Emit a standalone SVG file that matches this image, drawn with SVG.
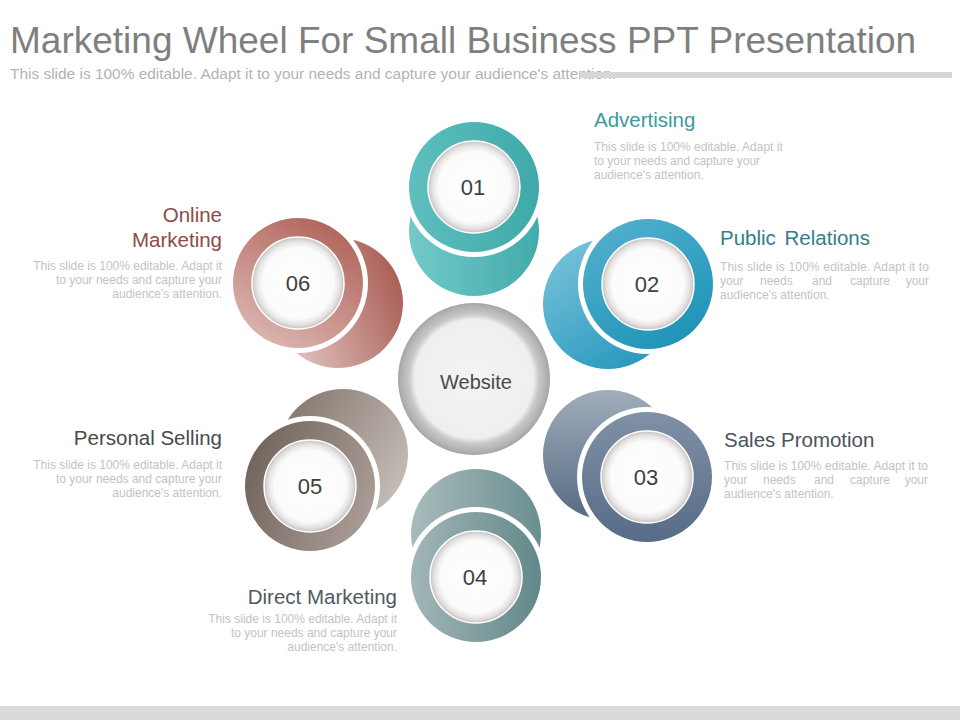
<svg xmlns="http://www.w3.org/2000/svg" width="960" height="720" viewBox="0 0 960 720">
<defs>
<style>
.title{font-family:"Liberation Sans",Arial,sans-serif;font-size:37px;fill:#7f7f7f}
.sub{font-family:"Liberation Sans",Arial,sans-serif;font-size:14px;fill:#b3b3b3}
.head{font-family:"Liberation Sans",Arial,sans-serif;font-size:20.5px}
.body{font-family:"Liberation Sans",Arial,sans-serif;font-size:12px;fill:#c3c3c3}
.end{text-anchor:end}
.num{font-family:"Liberation Sans",Arial,sans-serif;font-size:22px;fill:#404040;text-anchor:middle}
.gap{fill:#ffffff}
.inner{fill:url(#gInner);stroke:#ffffff;stroke-width:1.5}
</style>
<radialGradient id="gInner" cx="0.5" cy="0.5" r="0.5">
<stop offset="0" stop-color="#ffffff"/>
<stop offset="0.78" stop-color="#fbfbfb"/>
<stop offset="0.91" stop-color="#e4e1e1"/>
<stop offset="1" stop-color="#c6c1c1"/>
</radialGradient>
<radialGradient id="gWeb" cx="0.5" cy="0.5" r="0.5">
<stop offset="0" stop-color="#f3f3f3"/>
<stop offset="0.78" stop-color="#efefef"/>
<stop offset="0.86" stop-color="#c6c6c6"/>
<stop offset="0.95" stop-color="#b3b3b3"/>
<stop offset="1" stop-color="#a4a4a4"/>
</radialGradient>
<linearGradient id="f1" x1="0" y1="0" x2="1" y2="0"><stop offset="0" stop-color="#5ebfbe"/><stop offset="1" stop-color="#3ea9a9"/></linearGradient>
<linearGradient id="b1" x1="0" y1="0" x2="1" y2="0"><stop offset="0" stop-color="#72cac8"/><stop offset="1" stop-color="#42abab"/></linearGradient>
<linearGradient id="f2" x1="0.2" y1="0" x2="0.8" y2="1"><stop offset="0" stop-color="#52b0cd"/><stop offset="1" stop-color="#1c92b6"/></linearGradient>
<linearGradient id="b2" x1="0.2" y1="0" x2="0.8" y2="1"><stop offset="0" stop-color="#78c2da"/><stop offset="1" stop-color="#2597bc"/></linearGradient>
<linearGradient id="f3" x1="0" y1="0" x2="0" y2="1"><stop offset="0" stop-color="#8091a6"/><stop offset="1" stop-color="#566b87"/></linearGradient>
<linearGradient id="b3" x1="0" y1="0" x2="0" y2="1"><stop offset="0" stop-color="#a0adbb"/><stop offset="1" stop-color="#566a82"/></linearGradient>
<linearGradient id="f4" x1="0" y1="0" x2="1" y2="0"><stop offset="0" stop-color="#a2b6b7"/><stop offset="1" stop-color="#628889"/></linearGradient>
<linearGradient id="b4" x1="0" y1="0" x2="1" y2="0"><stop offset="0" stop-color="#a9bbbc"/><stop offset="1" stop-color="#6a8e8f"/></linearGradient>
<linearGradient id="f5" x1="0" y1="0.3" x2="1" y2="0.7"><stop offset="0" stop-color="#72645c"/><stop offset="1" stop-color="#aa9e97"/></linearGradient>
<linearGradient id="b5" x1="0" y1="0.2" x2="1" y2="0.8"><stop offset="0" stop-color="#85766d"/><stop offset="1" stop-color="#c7c0bb"/></linearGradient>
<linearGradient id="f6" x1="0.8" y1="0" x2="0.2" y2="1"><stop offset="0" stop-color="#ae6158"/><stop offset="1" stop-color="#ddb8b3"/></linearGradient>
<linearGradient id="b6" x1="1" y1="0.3" x2="0" y2="0.7"><stop offset="0" stop-color="#a85c53"/><stop offset="1" stop-color="#e4c9c5"/></linearGradient>
</defs>
<rect x="0" y="0" width="960" height="720" fill="#ffffff"/>
<g id="header">
<text class="title" x="10" y="53">Marketing Wheel For Small Business PPT Presentation</text>
<text class="sub" x="10" y="79" textLength="606" lengthAdjust="spacingAndGlyphs">This slide is 100% editable. Adapt it to your needs and capture your audience's attention.</text>
<rect x="580" y="72" width="372" height="6" fill="#d6d6d6"/>
</g>
<rect x="0" y="706" width="960" height="14" fill="#dadada"/>
<g id="connectors"></g>
<g id="center">
<circle cx="474" cy="379" r="76" fill="url(#gWeb)"/>
<text x="476" y="389" class="head" style="font-size:20px;fill:#4a4a4a;text-anchor:middle">Website</text>
</g>
<g id="node01">
<circle cx="474" cy="231" r="65" fill="url(#b1)"/>
<circle cx="474" cy="187" r="70" class="gap"/>
<circle cx="474" cy="187" r="65" fill="url(#f1)"/>
<circle cx="474" cy="187" r="46" class="inner"/>
<text class="num" x="473" y="195">01</text>
<text class="head" x="594" y="127" fill="#3a9c9c">Advertising</text>
<text class="body" x="594" y="151">This slide is 100% editable. Adapt it</text>
<text class="body" x="594" y="165">to your needs and capture your</text>
<text class="body" x="594" y="179">audience's attention.</text>
</g>
<g id="node02">
<circle cx="608" cy="304" r="65" fill="url(#b2)"/>
<circle cx="648" cy="284" r="70" class="gap"/>
<circle cx="648" cy="284" r="65" fill="url(#f2)"/>
<circle cx="648" cy="284" r="46" class="inner"/>
<text class="num" x="647" y="292">02</text>
<text class="head" x="720" y="245" fill="#347e8c" style="word-spacing:3px">Public Relations</text>
<text class="body" x="720" y="271" textLength="209" lengthAdjust="spacing">This slide is 100% editable. Adapt it to</text>
<text class="body" y="285"><tspan x="720">your</tspan><tspan x="760">needs</tspan><tspan x="812">and</tspan><tspan x="850">capture</tspan><tspan x="929" text-anchor="end">your</tspan></text>
<text class="body" x="720" y="299">audience's attention.</text>
</g>
<g id="node03">
<circle cx="608" cy="455" r="65" fill="url(#b3)"/>
<circle cx="647" cy="477" r="70" class="gap"/>
<circle cx="647" cy="477" r="65" fill="url(#f3)"/>
<circle cx="647" cy="477" r="46" class="inner"/>
<text class="num" x="646" y="485">03</text>
<text class="head" x="724" y="447" fill="#4b535c">Sales Promotion</text>
<text class="body" x="724" y="470" textLength="204" lengthAdjust="spacing">This slide is 100% editable. Adapt it to</text>
<text class="body" y="484"><tspan x="724">your</tspan><tspan x="763">needs</tspan><tspan x="814">and</tspan><tspan x="850">capture</tspan><tspan x="928" text-anchor="end">your</tspan></text>
<text class="body" x="724" y="498">audience's attention.</text>
</g>
<g id="node04">
<circle cx="476" cy="534" r="65" fill="url(#b4)"/>
<circle cx="476" cy="577" r="70" class="gap"/>
<circle cx="476" cy="577" r="65" fill="url(#f4)"/>
<circle cx="476" cy="577" r="46" class="inner"/>
<text class="num" x="475" y="585">04</text>
<text class="head end" x="397" y="604" fill="#505a5e">Direct Marketing</text>
<text class="body end" x="397" y="623">This slide is 100% editable. Adapt it</text>
<text class="body end" x="397" y="637">to your needs and capture your</text>
<text class="body end" x="397" y="651">audience's attention.</text>
</g>
<g id="node05">
<circle cx="343" cy="454" r="65" fill="url(#b5)"/>
<circle cx="310" cy="486" r="70" class="gap"/>
<circle cx="310" cy="486" r="65" fill="url(#f5)"/>
<circle cx="310" cy="486" r="46" class="inner"/>
<text class="num" x="310" y="494">05</text>
<text class="head end" x="222" y="445" fill="#4a4a4a">Personal Selling</text>
<text class="body end" x="222" y="469">This slide is 100% editable. Adapt it</text>
<text class="body end" x="222" y="483">to your needs and capture your</text>
<text class="body end" x="222" y="497">audience's attention.</text>
</g>
<g id="node06">
<circle cx="338" cy="303" r="65" fill="url(#b6)"/>
<circle cx="298" cy="283" r="70" class="gap"/>
<circle cx="298" cy="283" r="65" fill="url(#f6)"/>
<circle cx="298" cy="283" r="46" class="inner"/>
<text class="num" x="298" y="291">06</text>
<text class="head end" x="222" y="222" fill="#8c4c45">Online</text>
<text class="head end" x="222" y="247" fill="#8c4c45">Marketing</text>
<text class="body end" x="222" y="270">This slide is 100% editable. Adapt it</text>
<text class="body end" x="222" y="284">to your needs and capture your</text>
<text class="body end" x="222" y="298">audience's attention.</text>
</g>
</svg>
